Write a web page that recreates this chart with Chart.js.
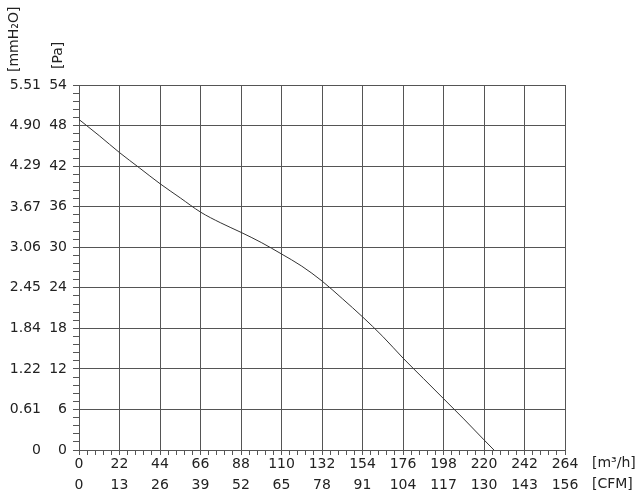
<!DOCTYPE html>
<html>
<head>
<meta charset="utf-8">
<script src="https://cdn.jsdelivr.net/npm/chart.js@4/dist/chart.umd.min.js"></script>
<style>
  html, body { margin: 0; padding: 0; background: #fff; }
  #wrap { width: 642px; height: 497px; position: relative; }
</style>
</head>
<body>
<div id="wrap"><canvas id="fanChart"></canvas></div>
<script>
// Kennlinie: Luftmenge [m3/h] gegen statischen Druck [Pa]
const flowM3h = [0, 11, 22, 33, 44, 55, 66, 77, 88, 99, 110, 121, 132, 143, 154, 165, 176, 187, 198, 209, 220, 225.4];
const pressurePa = [48.9, 46.5, 44.0, 41.7, 39.4, 37.3, 35.2, 33.6, 32.2, 30.7, 29.0, 27.2, 25.0, 22.4, 19.7, 16.8, 13.6, 10.6, 7.6, 4.6, 1.5, 0];

// Achsen
const paMax = 54, paStep = 6;
const m3hMax = 264, m3hStep = 22;
const cfmMax = 156, cfmStep = 13;
const mmTicks = [0, 0.61, 1.22, 1.84, 2.45, 3.06, 3.67, 4.29, 4.90, 5.51];

const FONT = 'DejaVu Sans';
const FSIZE = 14;
const gridCol = '#555';
const textCol = '#222';

function isMajor(v, step) {
  return Math.abs(v / step - Math.round(v / step)) < 1e-6;
}

const unitLabels = {
  id: 'unitLabels',
  afterDraw(chart) {
    const ctx = chart.ctx;
    const a = chart.chartArea;
    ctx.save();
    ctx.fillStyle = textCol;
    ctx.font = FSIZE + 'px "' + FONT + '"';
    ctx.textBaseline = 'middle';
    ctx.textAlign = 'left';
    ctx.fillText('[m³/h]', a.right + 27, 463);
    ctx.fillText('[CFM]', a.right + 27, 484);
    ctx.restore();
    // vertikale Titel
    [['[mmH₂O]', 14, a.top - 13], ['[Pa]', 58, a.top - 16]].forEach(([txt, x, y]) => {
      ctx.save();
      ctx.fillStyle = textCol;
      ctx.font = FSIZE + 'px "' + FONT + '"';
      ctx.textBaseline = 'middle';
      ctx.textAlign = 'left';
      ctx.translate(x, y);
      ctx.rotate(-Math.PI / 2);
      ctx.fillText(txt, 0, 0);
      ctx.restore();
    });
  }
};

new Chart(document.getElementById('fanChart'), {
  type: 'scatter',
  data: {
    datasets: [{
      data: flowM3h.map((f, i) => ({ x: f, y: pressurePa[i] })),
      showLine: true,
      borderColor: '#333',
      borderWidth: 1,
      pointRadius: 0,
      cubicInterpolationMode: 'monotone',
      xAxisID: 'x',
      yAxisID: 'y'
    }]
  },
  options: {
    responsive: true,
    maintainAspectRatio: false,
    animation: false,
    layout: { padding: { top: 85, right: 77, left: 8, bottom: 0 } },
    plugins: { legend: { display: false }, tooltip: { enabled: false } },
    scales: {
      x: {
        type: 'linear', position: 'bottom', weight: 0,
        min: 0, max: m3hMax,
        afterFit: s => { s.height = 26; },
        ticks: {
          stepSize: m3hStep / 5, autoSkip: false, maxRotation: 0,
          padding: 1, color: textCol, font: { family: FONT, size: FSIZE },
          callback: v => isMajor(v, m3hStep) ? String(Math.round(v)) : ''
        },
        grid: {
          color: c => isMajor(c.tick.value, m3hStep) ? gridCol : 'rgba(0,0,0,0)',
          tickColor: gridCol, tickLength: 5, lineWidth: 1
        },
        border: { color: gridCol }
      },
      x2: {
        type: 'linear', position: 'bottom', weight: 1,
        min: 0, max: cfmMax,
        afterFit: s => { s.height = 21; },
        ticks: {
          stepSize: cfmStep, autoSkip: false, maxRotation: 0,
          padding: 1, color: textCol, font: { family: FONT, size: FSIZE }
        },
        grid: { display: false, drawTicks: false },
        border: { display: false }
      },
      y: {
        type: 'linear', position: 'left', weight: 0,
        min: 0, max: paMax,
        afterFit: s => { s.width = 35; },
        ticks: {
          stepSize: paStep / 5, autoSkip: false,
          padding: 6, color: textCol, font: { family: FONT, size: FSIZE },
          callback: v => isMajor(v, paStep) ? String(Math.round(v)) : ''
        },
        grid: {
          color: c => isMajor(c.tick.value, paStep) ? gridCol : 'rgba(0,0,0,0)',
          tickColor: gridCol, tickLength: 6, lineWidth: 1
        },
        border: { color: gridCol }
      },
      y2: {
        type: 'linear', position: 'left', weight: 1,
        min: 0, max: mmTicks[mmTicks.length - 1],
        afterFit: s => { s.width = 36; },
        afterBuildTicks: s => { s.ticks = mmTicks.map(v => ({ value: v })); },
        ticks: {
          autoSkip: false, padding: 3, color: textCol, font: { family: FONT, size: FSIZE },
          callback: v => v === 0 ? '0' : v.toFixed(2)
        },
        grid: { display: false, drawTicks: false },
        border: { display: false }
      }
    }
  },
  plugins: [unitLabels]
});
</script>
</body>
</html>
